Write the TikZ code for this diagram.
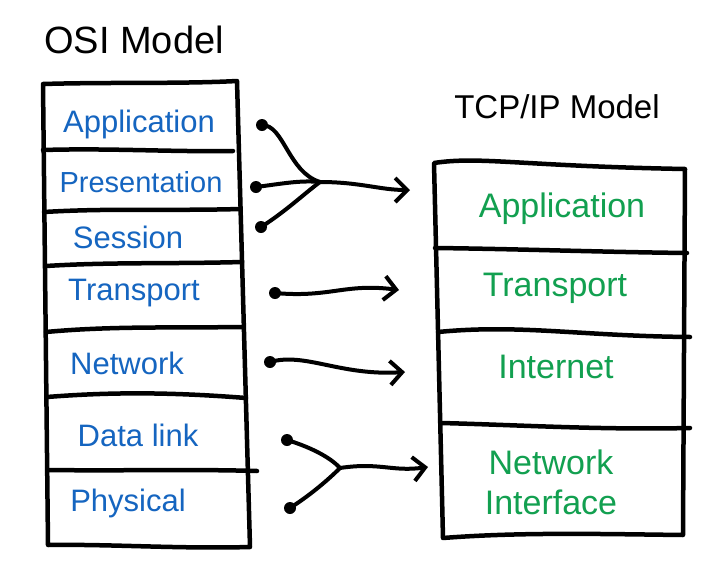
\documentclass[tikz,border=0pt]{standalone}
\usepackage{fontspec}
\setmainfont{Liberation Sans}
\usetikzlibrary{arrows.meta}
\definecolor{osiblue}{RGB}{21,101,192}
\definecolor{tcpgreen}{RGB}{18,160,80}
\tikzset{
  boxline/.style={line width=4.5pt, line cap=round, line join=round},
  conn/.style={line width=4pt, line cap=round, line join=round},
  arr/.style={conn, -{Straight Barb[length=12pt,width=24pt,line width=4pt]}},
  dot/.style={circle, fill=black, inner sep=0pt, minimum size=12pt},
  title/.style={font=\fontsize{38}{44}\selectfont, inner sep=0pt},
  osi/.style={text=osiblue, font=\fontsize{31}{36}\selectfont, inner sep=0pt},
  tcp/.style={text=tcpgreen, font=\fontsize{34}{40}\selectfont, inner sep=0pt, align=center}
}
\begin{document}
\begin{tikzpicture}[x=1pt,y=-1pt]
\useasboundingbox (0,0) rectangle (724,576);
\fill[white] (0,0) rectangle (724,576);

% titles
\node[title] (osit) at (134,40) {OSI Model};
\node[title, font=\fontsize{33}{40}\selectfont] (tcpt) at (557,107) {TCP/IP Model};

% OSI box outline
\draw[boxline] (43,84) .. controls (110,82) and (180,84) .. (237,81)
  -- (250,547) .. controls (180,549) and (110,544) .. (48,545) -- cycle;
% OSI dividers
\draw[boxline] (43,150) .. controls (110,148) and (170,152) .. (233,151);
\draw[boxline] (44,212) .. controls (110,208) and (170,211) .. (240,209);
\draw[boxline] (46,266) .. controls (110,262) and (170,264) .. (242,262);
\draw[boxline] (46,332) .. controls (110,326) and (170,328) .. (243,327);
\draw[boxline] (47,397) .. controls (110,392) and (170,392) .. (246,398);
\draw[boxline] (48,470) .. controls (120,471) and (190,469) .. (257,471);

% TCP/IP box outline
\draw[boxline] (434,163) .. controls (480,156) and (520,166) .. (685,169)
  -- (683,535) .. controls (600,534) and (520,532) .. (443,538) -- cycle;
% TCP/IP dividers
\draw[boxline] (435,248) .. controls (520,249) and (600,252) .. (687,253);
\draw[boxline] (438,332) .. controls (520,324) and (580,336) .. (690,337);
\draw[boxline] (441,423) .. controls (520,425) and (600,430) .. (690,428);

% OSI labels
\node[osi] (l7) at (139,124) {Application};
\node[osi, font=\fontsize{29}{34}\selectfont] (l6) at (141,182) {Presentation};
\node[osi] (l5) at (128,237) {Session};
\node[osi] (l4) at (134,293) {Transport};
\node[osi] (l3) at (127,363) {Network};
\node[osi] (l2) at (138,435) {Data link};
\node[osi] (l1) at (128,503) {Physical};

% TCP/IP labels
\node[tcp] (r4) at (562,209) {Application};
\node[tcp] (r3) at (555,288) {Transport};
\node[tcp] (r2) at (556,367) {Internet};
\node[tcp] (r1) at (551,482) {Network\\Interface};

% connector points
\node[dot] (d1) at (262,125) {};
\node[dot] (d2) at (256,187) {};
\node[dot] (d3) at (261,227) {};
\node[dot] (d4) at (275,293) {};
\node[dot] (d5) at (270,362) {};
\node[dot] (d6) at (287,440) {};
\node[dot] (d7) at (290,508) {};
\coordinate (m1) at (320,182);
\coordinate (t1) at (410,190);
\coordinate (t2) at (399,290);
\coordinate (t3) at (405,372);
\coordinate (m2) at (340,468);
\coordinate (t4) at (428,467);

% connectors
\draw[conn] (d1.center) .. controls (284,125) and (288,172) .. (m1);
\draw[conn] (d2.center) .. controls (280,184) and (300,180) .. (m1);
\draw[conn] (d3.center) .. controls (285,212) and (305,193) .. (m1);
\draw[arr] (m1) .. controls (360,182) and (380,190) .. (t1);
\draw[arr] (d4.center) .. controls (330,298) and (345,283) .. (t2);
\draw[arr] (d5.center) .. controls (305,352) and (340,376) .. (t3);
\draw[conn] (d6.center) .. controls (310,447) and (330,457) .. (m2);
\draw[conn] (d7.center) .. controls (312,494) and (330,478) .. (m2);
\draw[arr] (m2) .. controls (380,462) and (392,472) .. (t4);
\end{tikzpicture}
\end{document}
